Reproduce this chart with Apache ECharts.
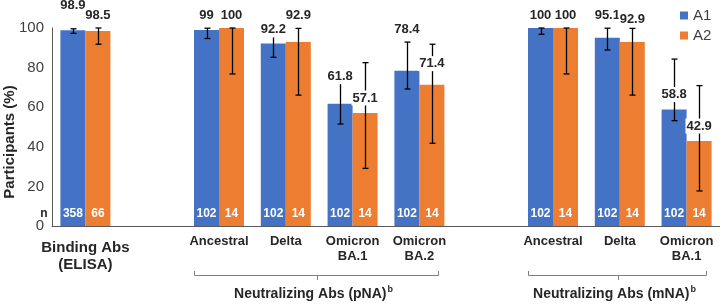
<!DOCTYPE html>
<html>
<head>
<meta charset="utf-8">
<script src="https://cdn.jsdelivr.net/npm/echarts@6/dist/echarts.min.js"></script>
<style>
html, body { margin: 0; padding: 0; background: #fff; }
#main { width: 720px; height: 306px; }
</style>
</head>
<body>
<div id="main"></div>
<script>
// one slot per bar pair, the empty slots are the gaps between panels
const groupNames = ['Binding Abs\n(ELISA)', '', 'Ancestral', 'Delta', 'Omicron\nBA.1', 'Omicron\nBA.2', '', 'Ancestral', 'Delta', 'Omicron\nBA.1']
const a1Values = [98.9, null, 99, 92.2, 61.8, 78.4, null, 100, 95.1, 58.8]
const a2Values = [98.5, null, 100, 92.9, 57.1, 71.4, null, 100, 92.9, 42.9]
const a1Low = [97.3, null, 94.7, 85.2, 51.5, 69.2, null, 96.8, 88.9, 53.2]
const a1High = [99.6, null, 99.9, 96.0, 75.4, 92.9, null, 100, 99.9, 84.3]
const a2Low = [91.8, null, 76.8, 66.1, 29.1, 41.8, null, 76.8, 66.1, 17.7]
const a2High = [100, null, 100, 99.8, 82.5, 91.8, null, 100, 99.8, 70.9]
const a1N = [358, null, 102, 102, 102, 102, null, 102, 102, 102]
const a2N = [66, null, 14, 14, 14, 14, null, 14, 14, 14]
const panels = [
    { title: 'Neutralizing Abs (pNA)', from: 2, to: 5 },
    { title: 'Neutralizing Abs (mNA)', from: 7, to: 9 },
]

const FONT = 'Liberation Sans, Arial, sans-serif'
const blue = '#4472C4'
const orange = '#ED7D31'
const ink = '#262626'
const barW = 25
// a few value labels sit off the usual spot in the original
const labelNudge = { '0-0': -10, '0-4': 13, '0-3': 7, '1-8': 4, '1-5': -6 }

let chartInstance = echarts.init(document.getElementById('main'))

const toItems = (vals, lo, hi) => {
    const arr = []
    vals.forEach((v, i) => {
        if (v != null) arr.push([i, lo[i], hi[i], v])
    })
    return arr
}

const errorSeries = (vals, lo, hi, side) => ({
    type: 'custom',
    z: 3,
    silent: true,
    encode: { x: 0, y: [1, 2] },
    data: toItems(vals, lo, hi),
    renderItem: (params, api) => {
        const i = api.value(0)
        const top = api.coord([i, api.value(2)])
        const bot = api.coord([i, api.value(1)])
        const cx = Math.round(top[0] + side * barW / 2) + 0.5
        const st = { stroke: '#000', lineWidth: 1.3 }
        return {
            type: 'group',
            children: [
                { type: 'line', shape: { x1: cx, y1: top[1], x2: cx, y2: bot[1] }, style: st },
                { type: 'line', shape: { x1: cx - 3, y1: top[1], x2: cx + 3, y2: top[1] }, style: st },
                { type: 'line', shape: { x1: cx - 3, y1: bot[1], x2: cx + 3, y2: bot[1] }, style: st },
            ]
        }
    }
})

const labelSeries = (vals, lo, hi, side, sIdx) => ({
    type: 'custom',
    z: 5,
    silent: true,
    encode: { x: 0, y: [1, 2] },
    data: toItems(vals, lo, hi),
    renderItem: (params, api) => {
        const i = api.value(0)
        const v = api.value(3)
        const h = api.value(2)
        const top = api.coord([i, h])
        const barTop = api.coord([i, v])
        const cx = top[0] + side * barW / 2
        let y = top[1] - 13
        // long error bars: label sits just above the bar, over the whisker
        if (h - v > 18) y = barTop[1] - 15
        y += labelNudge[sIdx + '-' + i] || 0
        return {
            type: 'text',
            x: cx,
            y: y,
            style: {
                text: String(v),
                fill: ink,
                fontSize: 13,
                fontWeight: 'bold',
                fontFamily: FONT,
                align: 'center',
                verticalAlign: 'middle',
                backgroundColor: '#fff',
                padding: [1, 1]
            }
        }
    }
})

const barSeries = (name, vals, nArr, color) => ({
    name: name,
    type: 'bar',
    barWidth: barW,
    barGap: '0%',
    data: vals,
    itemStyle: { color: color },
    label: {
        show: true,
        position: 'insideBottom',
        distance: 6,
        color: '#fff',
        fontWeight: 'bold',
        fontSize: 12,
        fontFamily: FONT,
        formatter: p => nArr[p.dataIndex]
    }
})

const initOpt = {
    animation: false,
    textStyle: { fontFamily: FONT },
    grid: { left: 52, right: 0, top: 28, bottom: 80 },
    legend: {
        data: ['A1', 'A2'],
        orient: 'vertical',
        left: 675,
        top: 3,
        icon: 'rect',
        itemWidth: 8,
        itemHeight: 8,
        itemGap: 5,
        textStyle: { fontSize: 15, color: '#404040', fontFamily: FONT }
    },
    xAxis: {
        type: 'category',
        data: groupNames.map((g, i) => String(i)),
        axisLine: { lineStyle: { color: '#595959', width: 1 } },
        axisTick: { show: false },
        axisLabel: {
            interval: 0,
            margin: 8,
            color: ink,
            fontWeight: 'bold',
            fontSize: 13,
            lineHeight: 15,
            formatter: (v, i) => {
                if (i === 0) {
                    const parts = groupNames[0].split('\n')
                    return '{big1|' + parts[0] + '}\n{big|' + parts[1] + '}'
                }
                return groupNames[i]
            },
            rich: {
                big1: { fontSize: 15, lineHeight: 20, fontWeight: 'bold', color: ink, padding: [8, 0, 0, 0] },
                big: { fontSize: 15, lineHeight: 22, fontWeight: 'bold', color: ink }
            }
        }
    },
    yAxis: {
        type: 'value',
        min: 0,
        max: 100,
        interval: 20,
        axisLine: { show: true, lineStyle: { color: '#595959' } },
        axisTick: { show: false },
        splitLine: { show: false },
        axisLabel: { fontSize: 15, color: '#404040', margin: 8 }
    },
    series: [
        barSeries('A1', a1Values, a1N, blue),
        barSeries('A2', a2Values, a2N, orange),
        errorSeries(a1Values, a1Low, a1High, -1),
        errorSeries(a2Values, a2Low, a2High, 1),
        labelSeries(a1Values, a1Low, a1High, -1, 0),
        labelSeries(a2Values, a2Low, a2High, 1, 1),
    ]
}
chartInstance.setOption(initOpt)

// brackets under the two neutralizing panels, placed from the category axis
const graphics = [
    {
        type: 'text', x: 10, y: 142, rotation: Math.PI / 2,
        style: { text: 'Participants (%)', fontSize: 15, fontWeight: 'bold', fontFamily: FONT, fill: ink, align: 'center', verticalAlign: 'middle' }
    },
    {
        type: 'text', x: 44, y: 214,
        style: { text: 'n', fontSize: 12, fontWeight: 'bold', fontFamily: FONT, fill: ink, align: 'center', verticalAlign: 'middle' }
    }
]
panels.forEach(p => {
    const x1 = Math.round(chartInstance.convertToPixel({ xAxisIndex: 0 }, p.from) - barW) + 0.5
    const x2 = Math.round(chartInstance.convertToPixel({ xAxisIndex: 0 }, p.to) + 19) + 0.5
    const xc = Math.round((x1 + x2) / 2) + 0.5
    graphics.push({
        type: 'polyline',
        shape: { points: [[x1, 271], [x1, 275.5], [x2, 275.5], [x2, 271]] },
        style: { stroke: '#7f7f7f', lineWidth: 1, fill: null }
    })
    graphics.push({
        type: 'line',
        shape: { x1: xc, y1: 275.5, x2: xc, y2: 280 },
        style: { stroke: '#7f7f7f', lineWidth: 1 }
    })
    graphics.push({
        type: 'text', x: xc - 4, y: 294,
        style: {
            text: '{t|' + p.title + '}{sup|b}',
            align: 'center',
            verticalAlign: 'middle',
            rich: {
                t: { fontSize: 14, fontWeight: 'bold', fontFamily: FONT, fill: ink, color: ink },
                sup: { fontSize: 9, fontWeight: 'bold', fontFamily: FONT, fill: ink, color: ink, padding: [0, 0, 8, 1] }
            }
        }
    })
})
chartInstance.setOption({ graphic: graphics })
</script>
</body>
</html>
